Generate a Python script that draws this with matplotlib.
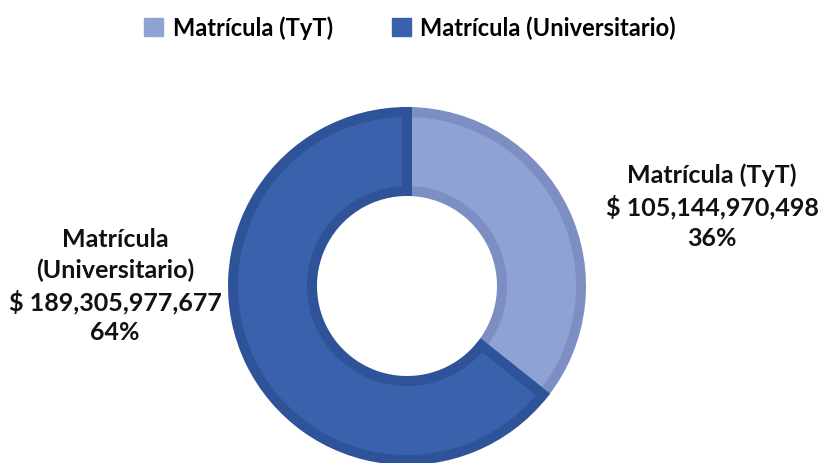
import matplotlib.pyplot as plt
from matplotlib.patches import Patch

categories = ['Matrícula (TyT)', 'Matrícula (Universitario)']
values = [105144970498, 189305977677]
label_texts = ['Matrícula (TyT)', 'Matrícula\n(Universitario)']

fills = ['#8EA2D4', '#3A62AC']
edges = ['#7D8EC2', '#2F5399']

plt.rcParams['font.family'] = ['Lato', 'DejaVu Sans']
plt.rcParams['font.weight'] = 'bold'

W, H = 820, 464
fig = plt.figure(figsize=(W / 100, H / 100), dpi=100)
ax = fig.add_axes([0, 0, 1, 1])

cx, cy = 407, H - 287
# the stroke sits on the path, so the path is pulled in by half the line width
wedges, _ = ax.pie(values, colors=fills, startangle=90, counterclock=False,
                   center=(cx, cy), radius=174,
                   wedgeprops=dict(width=79, linewidth=7.2, joinstyle='miter'))
for w, e in zip(wedges, edges):
    w.set_edgecolor(e)

# pie() resets the limits, so set them afterwards (1 unit = 1 pixel)
ax.set_xlim(0, W)
ax.set_ylim(0, H)
ax.set_aspect('equal')
ax.axis('off')

total = sum(values)
pos = [(712, H - 207), (115, H - 286)]
for lab, v, (x, y) in zip(label_texts, values, pos):
    txt = '%s\n$ %s\n%d%%' % (lab, format(v, ','), round(100 * v / total))
    ax.text(x, y, txt, ha='center', va='center', fontsize=18,
            fontweight='bold', color='#111111', linespacing=1.38)

handles = [Patch(facecolor=f, edgecolor=f) for f in fills]
fig.legend(handles, categories, loc='upper center', bbox_to_anchor=(0.5, 1.01),
           ncol=2, frameon=False, handlelength=0.8, handleheight=0.8,
           handletextpad=0.4, columnspacing=2.5, prop={'weight': 'bold', 'size': 17})

fig.savefig('out.png', dpi=100)
